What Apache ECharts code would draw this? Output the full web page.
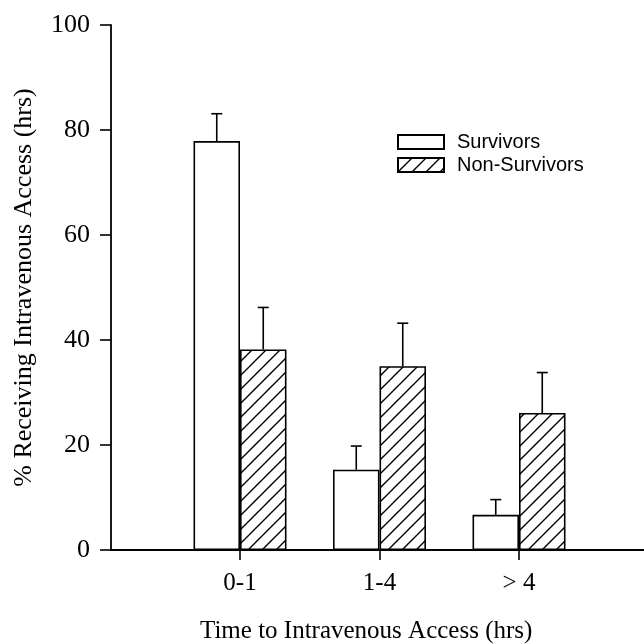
<!DOCTYPE html>
<html>
<head>
<meta charset="utf-8">
<script src="https://cdn.jsdelivr.net/npm/echarts@6/dist/echarts.min.js"></script>
<style>
  html, body { margin: 0; padding: 0; background: #fff; }
  #chart { width: 644px; height: 644px; }
</style>
</head>
<body>
<div id="chart"></div>
<script>
// data
var categories = ['0-1', '1-4', '> 4'];
var survivors = [77.9, 15.3, 6.7];
var survivorsErr = [83.1, 19.8, 9.6];
var nonSurvivors = [38.2, 35.0, 26.1];
var nonSurvivorsErr = [46.2, 43.2, 33.8];
var yTicks = [0, 20, 40, 60, 80, 100];

var BAR_W = 46.5;
var serif = '"Liberation Serif", "Times New Roman", serif';

// diagonal hatch tile
function hatchPattern() {
  var s = 14;
  var c = document.createElement('canvas');
  c.width = s; c.height = s;
  var ctx = c.getContext('2d');
  ctx.fillStyle = '#fff';
  ctx.fillRect(0, 0, s, s);
  ctx.strokeStyle = '#000';
  ctx.lineWidth = 1.4;
  ctx.beginPath();
  ctx.moveTo(0, s); ctx.lineTo(s, 0);
  ctx.moveTo(-s / 2, s / 2); ctx.lineTo(s / 2, -s / 2);
  ctx.moveTo(s / 2, s * 1.5); ctx.lineTo(s * 1.5, s / 2);
  ctx.stroke();
  return c;
}

function pairs(vals) {
  return vals.map(function (v, i) { return [i + 1, v]; });
}
function errPairs(vals, errs) {
  return vals.map(function (v, i) { return [i + 1, v, errs[i]]; });
}

function errorBar(side) {
  return function (params, api) {
    var base = api.coord([api.value(0), api.value(1)]);
    var top = api.coord([api.value(0), api.value(2)]);
    var x = base[0] + side * BAR_W / 2;
    var style = { stroke: '#000', lineWidth: 1.6 };
    return {
      type: 'group',
      children: [
        { type: 'line', shape: { x1: x, y1: base[1], x2: x, y2: top[1] }, style: style },
        { type: 'line', shape: { x1: x - 5.5, y1: top[1], x2: x + 5.5, y2: top[1] }, style: style }
      ]
    };
  };
}

var chart = echarts.init(document.getElementById('chart'));

var option = {
  animation: false,
  backgroundColor: '#fff',
  title: {
    text: 'Time to Intravenous Access (hrs)',
    left: 195,
    top: 614,
    textStyle: { fontFamily: serif, fontSize: 25, fontWeight: 'normal', color: '#000' }
  },
  legend: {
    orient: 'vertical',
    left: 392,
    top: 127,
    itemWidth: 46,
    itemHeight: 14,
    itemGap: 3,
    icon: 'rect',
    data: ['Survivors', 'Non-Survivors'],
    textStyle: {
      fontFamily: '"Liberation Sans", Arial, sans-serif',
      fontSize: 20,
      color: '#000',
      padding: [0, 0, 0, 8]
    }
  },
  grid: { left: 111, right: 0, top: 25, bottom: 94 },
  xAxis: {
    type: 'value',
    min: 0.0753,
    max: 3.896,
    splitLine: { show: false },
    axisLine: { lineStyle: { color: '#000', width: 1.8 } },
    axisTick: {
      customValues: [1, 2, 3],
      length: 10,
      lineStyle: { color: '#000', width: 1.6 }
    },
    axisLabel: {
      customValues: [1, 2, 3],
      margin: 21,
      fontFamily: serif,
      fontSize: 25,
      color: '#000',
      formatter: function (v) { return categories[Math.round(v) - 1]; }
    }
  },
  yAxis: {
    type: 'value',
    min: 0,
    max: 100,
    interval: 20,
    name: '% Receiving Intravenous Access (hrs)',
    nameLocation: 'middle',
    nameGap: 74,
    nameTextStyle: { fontFamily: serif, fontSize: 26, color: '#000' },
    splitLine: { show: false },
    axisLine: { show: true, lineStyle: { color: '#000', width: 1.8 } },
    axisTick: { show: true, length: 11, lineStyle: { color: '#000', width: 1.6 } },
    axisLabel: {
      margin: 21,
      fontFamily: serif,
      fontSize: 26,
      color: '#000',
      customValues: yTicks
    }
  },
  series: [
    {
      name: 'Survivors',
      type: 'bar',
      barWidth: BAR_W,
      barGap: '0%',
      data: pairs(survivors),
      itemStyle: { color: '#fff', borderColor: '#000', borderWidth: 1.6 }
    },
    {
      name: 'Non-Survivors',
      type: 'bar',
      barWidth: BAR_W,
      barGap: '0%',
      data: pairs(nonSurvivors),
      itemStyle: {
        color: { image: hatchPattern(), repeat: 'repeat' },
        borderColor: '#000',
        borderWidth: 1.6
      }
    },
    {
      type: 'custom',
      renderItem: errorBar(-1),
      data: errPairs(survivors, survivorsErr),
      z: 1
    },
    {
      type: 'custom',
      renderItem: errorBar(1),
      data: errPairs(nonSurvivors, nonSurvivorsErr),
      z: 1
    }
  ]
};

chart.setOption(option);
</script>
</body>
</html>
